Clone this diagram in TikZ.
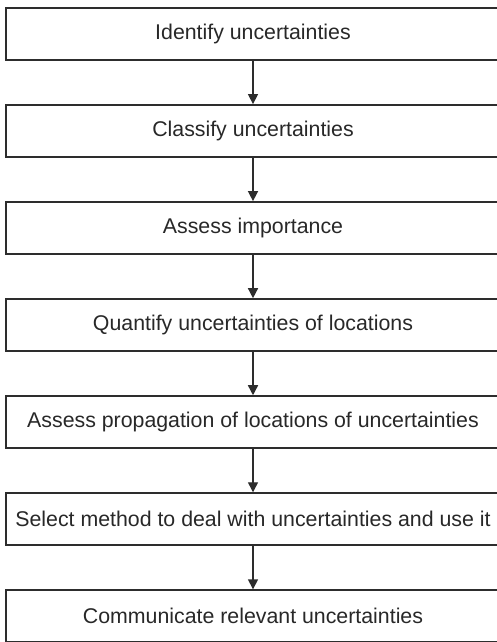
\documentclass[tikz,border=0pt]{standalone}
\usepackage{fontspec}
\setmainfont{Liberation Sans}
\usepackage{tikz}
\usepackage{xcolor}
\usetikzlibrary{arrows.meta,positioning}
\definecolor{boxline}{RGB}{45,45,45}
\definecolor{boxtext}{RGB}{40,40,40}

\begin{document}
\begin{tikzpicture}[
    node distance=1.295cm,
    stepbox/.style={rectangle,draw=boxline,fill=white,line width=1.6pt,
      minimum width=14.82cm,minimum height=1.56cm,inner sep=0pt,
      align=center,text=boxtext,font=\fontsize{18.2}{21}\selectfont},
    arrow/.style={-{Triangle[length=0.3cm,width=0.3cm]},line width=1.2pt,draw=boxline}
  ]
    \useasboundingbox[fill=white] (0,0) rectangle (14.88,-19.26);

    \node[stepbox] (ident) at (7.59,-1.02) {Identify uncertainties};
    \node[stepbox,below=of ident] (classify) {Classify uncertainties};
    \node[stepbox,below=of classify] (assess) {Assess importance};
    \node[stepbox,below=of assess] (quant) {Quantify uncertainties of locations};
    \node[stepbox,below=of quant] (prop) {Assess propagation of locations of uncertainties};
    \node[stepbox,below=of prop] (select) {Select method to deal with uncertainties and use it};
    \node[stepbox,below=of select] (comm) {Communicate relevant uncertainties};

    \draw[arrow] (ident) -- (classify);
    \draw[arrow] (classify) -- (assess);
    \draw[arrow] (assess) -- (quant);
    \draw[arrow] (quant) -- (prop);
    \draw[arrow] (prop) -- (select);
    \draw[arrow] (select) -- (comm);
  \end{tikzpicture}
\end{document}
